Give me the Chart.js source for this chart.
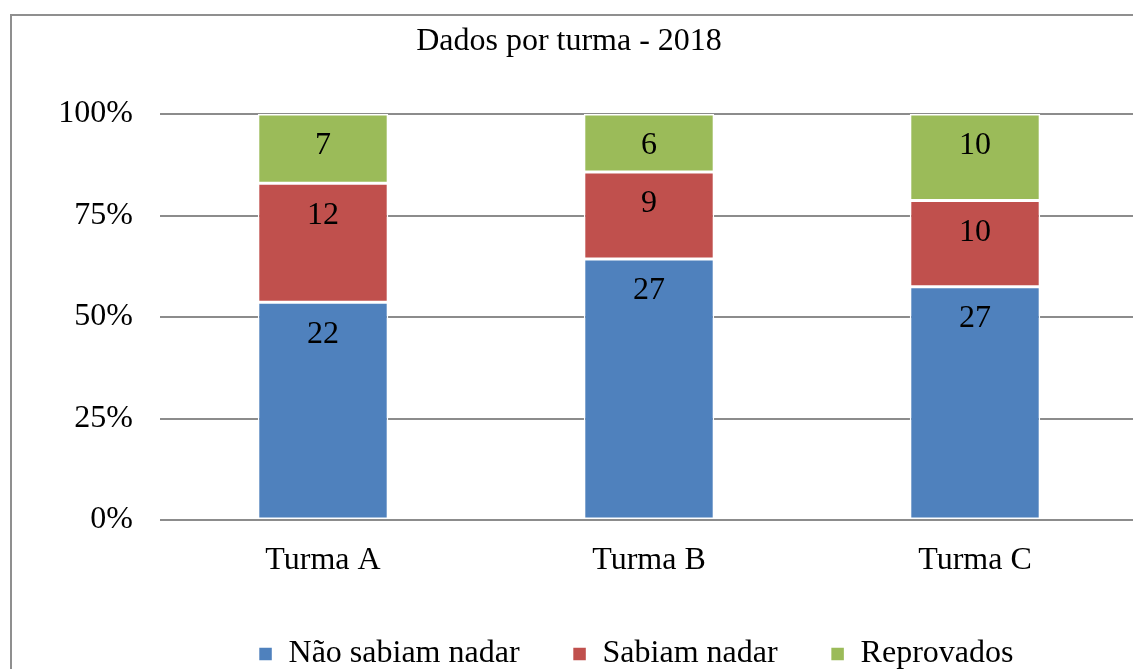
<!DOCTYPE html>
<html>
<head>
<meta charset="utf-8">
<script src="https://cdn.jsdelivr.net/npm/chart.js@4/dist/chart.umd.min.js"></script>
<style>
  html, body { margin: 0; padding: 0; background: #fff; overflow: hidden; }
  #wrap { position: absolute; left: 0; top: 0; width: 1138px; height: 680px; }
</style>
</head>
<body>
<div id="wrap"><canvas id="chart" width="1138" height="680"></canvas></div>
<script>
// DATA
const turmas = ["Turma A", "Turma B", "Turma C"];
const naoSabiam = [22, 27, 27];
const sabiam = [12, 9, 10];
const reprovados = [7, 6, 10];
const yTicks = [0, 25, 50, 75, 100];

const totals = turmas.map((t, i) => naoSabiam[i] + sabiam[i] + reprovados[i]);
const pct = arr => arr.map((v, i) => v / totals[i] * 100);

const rawValues = [naoSabiam, sabiam, reprovados];

const FONT = 'Liberation Serif';

// frame around the chart (cropped on the right and bottom)
const framePlugin = {
    id: 'frame',
    beforeDraw(chart) {
        const ctx = chart.ctx;
        ctx.save();
        ctx.strokeStyle = '#8f8f8f';
        ctx.lineWidth = 2;
        ctx.strokeRect(11, 15, 2000, 2000);
        ctx.restore();
        // legend sits a bit left of the plot centre in the original
        chart.legend.left -= 13;
        chart.legend.right -= 13;
    }
};

// labels near the top of each segment
const labelPlugin = {
    id: 'segLabels',
    afterDatasetsDraw(chart) {
        const ctx = chart.ctx;
        ctx.save();
        ctx.font = '32px "' + FONT + '"';
        ctx.fillStyle = '#000';
        ctx.textAlign = 'center';
        ctx.textBaseline = 'middle';
        chart.data.datasets.forEach((ds, di) => {
            chart.getDatasetMeta(di).data.forEach((bar, i) => {
                const top = Math.min(bar.y, bar.base);
                ctx.fillText(String(rawValues[di][i]), bar.x, top + 32);
            });
        });
        ctx.restore();
    }
};

new Chart(document.getElementById("chart"), {
    type: 'bar',
    data: {
        labels: turmas,
        datasets: [
            { label: "Não sabiam nadar", data: pct(naoSabiam), backgroundColor: "#4f81bd" },
            { label: "Sabiam nadar", data: pct(sabiam), backgroundColor: "#c0504d" },
            { label: "Reprovados", data: pct(reprovados), backgroundColor: "#9bbb59" }
        ]
    },
    options: {
        responsive: false,
        animation: false,
        layout: { padding: 0 },
        datasets: {
            bar: {
                barPercentage: 0.4,
                categoryPercentage: 1.0,
                borderColor: '#ffffff',
                borderWidth: 1.5,
                borderSkipped: false
            }
        },
        plugins: {
            title: {
                display: true,
                text: "Dados por turma - 2018",
                color: '#000',
                font: { family: FONT, size: 32, weight: 'normal', lineHeight: 1.2 },
                padding: { top: 22, bottom: 53.6 }
            },
            legend: {
                position: 'bottom',
                fullSize: false,
                labels: {
                    color: '#000',
                    font: { family: FONT, size: 32 },
                    boxWidth: 14,
                    boxHeight: 14,
                    padding: 53
                }
            },
            tooltip: { enabled: false }
        },
        scales: {
            x: {
                stacked: true,
                grid: { display: false },
                border: { display: false },
                ticks: {
                    color: '#000',
                    font: { family: FONT, size: 32, lineHeight: 1.2 },
                    padding: 13
                },
                afterFit: s => { s.height = 65; }
            },
            y: {
                stacked: true,
                min: 0,
                max: 100,
                afterBuildTicks: s => { s.ticks = yTicks.map(v => ({ value: v })); },
                afterFit: s => { s.width = 160; },
                grid: { color: '#8c8c8c', lineWidth: 2, drawTicks: false },
                border: { display: false },
                ticks: {
                    color: '#000',
                    font: { family: FONT, size: 32 },
                    padding: 27,
                    callback: v => v + '%'
                }
            }
        }
    },
    plugins: [framePlugin, labelPlugin]
});
</script>
</body>
</html>
